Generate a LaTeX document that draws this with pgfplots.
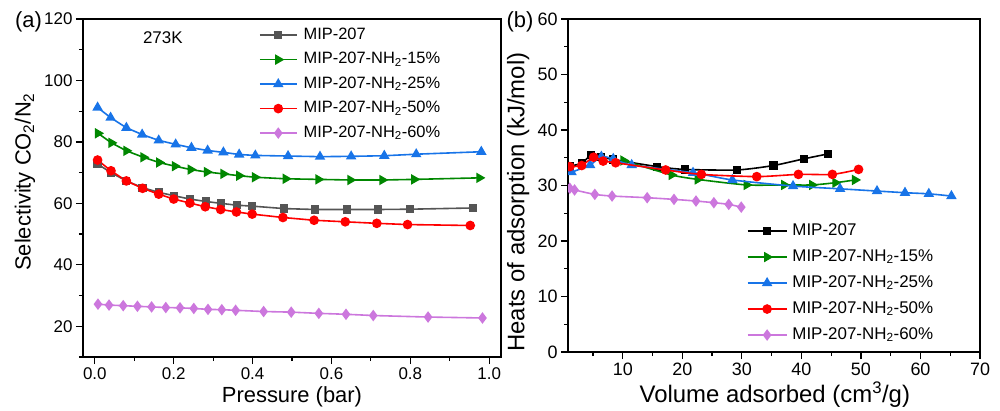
\documentclass[border=0pt]{standalone}
\usepackage{fontspec}
\setmainfont{Liberation Sans}
\usepackage{pgfplots}
\pgfplotsset{compat=1.18}
\definecolor{cgray}{RGB}{85,85,85}
\definecolor{cgreen}{RGB}{0,135,0}
\definecolor{cblue}{RGB}{24,116,232}
\definecolor{cred}{RGB}{255,0,0}
\definecolor{cpurp}{RGB}{204,119,221}
\pgfplotsset{
  myaxis/.style={
    scale only axis, anchor=south west,
    axis line style={line width=1.3bp},
    tick align=outside, tick pos=left,
    major tick length=7bp, minor tick length=4bp,
    every tick/.style={line width=1.2bp, black},
    /pgf/number format/assume math mode=true,
    legend cell align=left,
  },
  s207a/.style={line width=1.6bp, color=cgray, mark=square*, mark size=3.3bp, mark options={solid, fill=cgray, draw=cgray}},
  s207b/.style={line width=1.6bp, color=black, mark=square*, mark size=3.3bp, mark options={solid, fill=black, draw=black}},
  s15/.style={line width=1.6bp, color=cgreen, mark=triangle*, mark size=4.5bp, mark options={solid, rotate=-90, fill=cgreen, draw=cgreen}},
  s25/.style={line width=1.6bp, color=cblue, mark=triangle*, mark size=4.5bp, mark options={solid, fill=cblue, draw=cblue}},
  s50/.style={line width=1.6bp, color=cred, mark=*, mark size=4bp, mark options={solid, fill=cred, draw=cred}},
  s60/.style={line width=1.6bp, color=cpurp, mark=diamond*, mark size=4.5bp, mark options={solid, fill=cpurp, draw=cpurp}},
}
\begin{document}
\begin{tikzpicture}
\useasboundingbox (0,0) rectangle (1000bp,411bp);
% ---------------- panel (a)
\begin{axis}[myaxis,
  at={(83bp,54bp)}, width=418bp, height=338bp,
  xmin=-0.03, xmax=1.03, ymin=10, ymax=120,
  xtick={0,0.2,...,1.0}, minor xtick={0.1,0.3,...,0.9},
  ytick={20,40,...,120}, minor ytick={10,30,...,110},
  xticklabel style={/pgf/number format/.cd, fixed, fixed zerofill, precision=1},
  tick label style={font=\fontsize{17}{20}\selectfont},
  xlabel={Pressure (bar)},
  ylabel={Selectivity CO\textsubscript{2}/N\textsubscript{2}},
  every axis x label/.style={at={(axis description cs:0.5,-0.118)}, anchor=center, font=\fontsize{22}{26}\selectfont},
  every axis y label/.style={at={(axis description cs:-0.139,0.518)}, anchor=center, rotate=90, font=\fontsize{22}{26}\selectfont},
  legend style={at={(axis description cs:0.421,0.976)}, anchor=north west, draw=none, fill=none,
    inner sep=0pt, outer sep=0pt, row sep=8.5bp, column sep=6bp,
    font=\fontsize{16.5}{19}\selectfont,
    nodes={inner sep=0bp, text height=12bp, text depth=4bp}},
  legend image code/.code={\draw[mark repeat=2,mark phase=2,#1] plot coordinates {(0bp,0bp) (18.5bp,0bp) (37bp,0bp)};},
]
\addplot[s207a] coordinates {(0.007,72.8)(0.041,70.0)(0.080,67.3)(0.121,65.1)(0.162,63.6)(0.200,62.5)(0.241,61.4)(0.282,60.6)(0.320,60.0)(0.360,59.4)(0.399,59.1)(0.480,58.3)(0.559,58.0)(0.639,58.0)(0.719,58.0)(0.800,58.1)(0.959,58.5)};
\addplot[s15] coordinates {(0.008,82.8)(0.042,79.7)(0.080,77.1)(0.123,75.0)(0.163,73.3)(0.203,72.1)(0.243,71.0)(0.284,70.2)(0.326,69.6)(0.366,69.0)(0.406,68.5)(0.484,68.0)(0.567,67.8)(0.648,67.6)(0.729,67.6)(0.810,67.8)(0.975,68.3)};
\addplot[s25] coordinates {(0.007,91.2)(0.040,87.9)(0.080,84.6)(0.120,82.4)(0.162,80.5)(0.205,79.2)(0.245,78.1)(0.286,77.2)(0.326,76.6)(0.366,75.9)(0.407,75.6)(0.490,75.4)(0.571,75.2)(0.650,75.3)(0.734,75.5)(0.815,76.0)(0.980,76.8)};
\addplot[s50] coordinates {(0.007,74.1)(0.041,70.6)(0.080,67.3)(0.121,64.9)(0.162,63.0)(0.200,61.4)(0.241,60.1)(0.280,58.9)(0.319,58.0)(0.359,57.2)(0.399,56.5)(0.477,55.4)(0.556,54.5)(0.635,54.0)(0.715,53.5)(0.793,53.1)(0.952,52.8)};
\addplot[s60] coordinates {(0.008,27.2)(0.036,26.9)(0.072,26.7)(0.108,26.5)(0.144,26.3)(0.180,26.1)(0.216,26.0)(0.251,25.8)(0.287,25.5)(0.322,25.4)(0.357,25.2)(0.428,24.8)(0.498,24.6)(0.568,24.2)(0.637,23.9)(0.706,23.5)(0.845,23.0)(0.983,22.7)};
\legend{MIP-207, MIP-207-NH\textsubscript{2}-15\%, MIP-207-NH\textsubscript{2}-25\%, MIP-207-NH\textsubscript{2}-50\%, MIP-207-NH\textsubscript{2}-60\%}
\node[font=\fontsize{17}{20}\selectfont] at (axis description cs:0.191,0.944) {273K};
\end{axis}
% ---------------- panel (b)
\begin{axis}[myaxis,
  at={(568bp,59bp)}, width=412bp, height=333bp,
  xmin=0.8, xmax=70, ymin=0, ymax=60,
  xtick={10,20,...,70}, minor xtick={5,15,...,65},
  ytick={0,10,...,60}, minor ytick={5,15,...,55},
  clip marker paths=true,
  tick label style={font=\fontsize{18}{21}\selectfont},
  xlabel={Volume adsorbed (cm\textsuperscript{3}/g)},
  ylabel={Heats of adsorption (kJ/mol)},
  every axis x label/.style={at={(axis description cs:0.502,-0.129)}, anchor=center, font=\fontsize{24}{28}\selectfont},
  every axis y label/.style={at={(axis description cs:-0.121,0.45)}, anchor=center, rotate=90, font=\fontsize{24}{28}\selectfont},
  legend style={at={(axis description cs:0.434,0.388)}, anchor=north west, draw=none, fill=none,
    inner sep=0pt, outer sep=0pt, row sep=9.5bp, column sep=5bp,
    font=\fontsize{17}{20}\selectfont,
    nodes={inner sep=0bp, text height=12.5bp, text depth=4bp}},
  legend image code/.code={\draw[mark repeat=2,mark phase=2,#1] plot coordinates {(0bp,0bp) (19.5bp,0bp) (39bp,0bp)};},
]
\addplot[s207b, smooth, tension=0.4] coordinates {(1.1,33.5)(3.1,34.0)(4.7,35.5)(6.3,35.2)(8.3,34.7)(15.8,33.4)(20.4,32.9)(29.2,32.8)(35.3,33.6)(40.4,34.8)(44.5,35.7)};
\addplot[s15, smooth, tension=0.4] coordinates {(10.1,34.5)(18.2,31.9)(22.6,31.1)(30.8,30.1)(37.1,30.1)(41.8,30.1)(45.7,30.5)(49.0,31.0)};
\addplot[s25, smooth, tension=0.4] coordinates {(1.4,32.4)(4.5,33.7)(6.4,35.2)(8.4,34.8)(11.5,33.7)(21.8,32.3)(28.4,31.0)(38.6,29.9)(46.5,29.4)(52.7,29.0)(57.4,28.7)(61.4,28.5)(65.2,28.1)};
\addplot[s50, smooth, tension=0.4] coordinates {(1.1,33.4)(3.1,33.6)(5.1,35.1)(6.7,34.4)(8.8,34.1)(17.2,32.8)(23.2,32.0)(32.5,31.6)(39.5,32.0)(45.2,32.0)(49.6,32.9)};
\addplot[s60, smooth, tension=0.4] coordinates {(1.1,29.5)(1.9,29.2)(5.3,28.4)(8.2,28.1)(14.1,27.8)(18.6,27.5)(22.3,27.2)(25.3,26.9)(27.8,26.6)(29.9,26.1)};
\legend{MIP-207, MIP-207-NH\textsubscript{2}-15\%, MIP-207-NH\textsubscript{2}-25\%, MIP-207-NH\textsubscript{2}-50\%, MIP-207-NH\textsubscript{2}-60\%}
\end{axis}
\node[font=\fontsize{22}{26}\selectfont] at (28.5bp,389bp) {(a)};
\node[font=\fontsize{22}{26}\selectfont] at (520bp,389bp) {(b)};
\end{tikzpicture}
\end{document}
